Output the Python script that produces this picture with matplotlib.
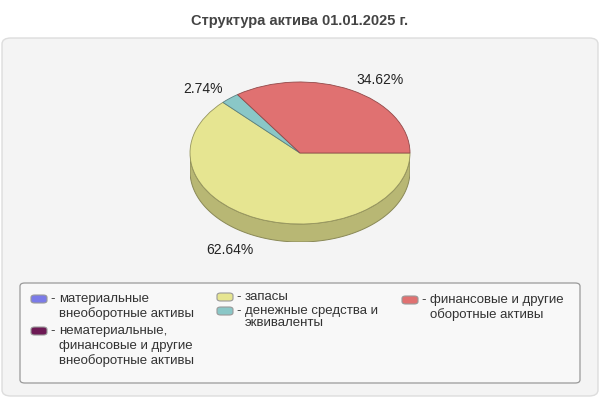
import numpy as np
import matplotlib
matplotlib.use("Agg")
import matplotlib.pyplot as plt
from matplotlib.patches import FancyBboxPatch, Polygon
from matplotlib.colors import to_rgb

plt.rcParams['font.family'] = ['Liberation Sans', 'DejaVu Sans']

title = "Структура актива 01.01.2025 г."
categories = [
    "материальные\nвнеоборотные активы",
    "нематериальные,\nфинансовые и другие\nвнеоборотные активы",
    "запасы",
    "денежные средства и\nэквиваленты",
    "финансовые и другие\nоборотные активы",
]
shares = [0.0, 0.0, 62.64, 2.74, 34.62]
colors = ["#7b7be8", "#6e1a55", "#e6e591", "#8ac7c7", "#e07171"]

W, H = 600, 400
fig = plt.figure(figsize=(6, 4), dpi=100)
fig.patch.set_facecolor("white")


def fx(px):
    return px / W


def fy(py):
    return 1 - py / H


# background panel
panel = FancyBboxPatch((fx(2), fy(396)), fx(596), 358 / H,
                       boxstyle="round,pad=0,rounding_size=0.015",
                       transform=fig.transFigure, facecolor="#f4f4f4",
                       edgecolor="#dddddd", linewidth=1, zorder=-5)
fig.patches.append(panel)

fig.text(0.5, fy(21), title, ha="center", va="center",
         fontsize=10.5, fontweight="bold", color="#444444")

# pie area: top ellipse 190..410 x 82..224, depth 18px
depth = 18 / 71
ax = fig.add_axes([fx(190), fy(242), fx(220), 160 / H])
ax.patch.set_visible(False)
vals = [v for v in shares if v > 0]
cols = [c for v, c in zip(shares, colors) if v > 0]


def darker(c, f=0.8):
    return tuple(min(1, x * f) for x in to_rgb(c))


wedges = ax.pie(vals, colors=cols, startangle=0, counterclock=False, radius=1,
                wedgeprops=dict(linewidth=0.6))[0]
for w, c in zip(wedges, cols):
    w.set_edgecolor(darker(c, 0.65))
    w.set_zorder(3)

# side of the pie: only the front half (180..360 deg) is visible
for w, c in zip(wedges, cols):
    lo, hi = w.theta1, w.theta2
    for off in (0, 360, -360):
        a, b = max(lo + off, 180), min(hi + off, 360)
        if b <= a:
            continue
        t = np.radians(np.linspace(a, b, 120))
        top = np.column_stack([np.cos(t), np.sin(t)])
        bot = np.column_stack([np.cos(t[::-1]), np.sin(t[::-1]) - depth])
        ax.add_patch(Polygon(np.vstack([top, bot]), closed=True, zorder=2,
                             facecolor=darker(c, 0.8),
                             edgecolor=darker(c, 0.6), linewidth=0.7))

for w, v in zip(wedges, vals):
    mid = np.radians((w.theta1 + w.theta2) / 2)
    x, y = 1.1 * np.cos(mid), 1.1 * np.sin(mid)
    ha = "left" if x > 0 else "right"
    if y < 0:
        y -= depth
        va = "top"
    else:
        va = "baseline"
    ax.text(x, y, f"{v:.2f}%", ha=ha, va=va, fontsize=10,
            color="#222222", zorder=4)

ax.set_aspect("auto")
ax.set_xlim(-1, 1)
ax.set_ylim(-1 - depth, 1)
ax.axis("off")

# legend box
leg_box = FancyBboxPatch((fx(20), fy(383)), fx(560), 100 / H,
                         boxstyle="round,pad=0,rounding_size=0.008",
                         transform=fig.transFigure, facecolor="#f8f8f8",
                         edgecolor="#999999", linewidth=0.9, zorder=-4)
fig.patches.append(leg_box)

col_x = [31, 217, 402]
col_pitch = [15, 12, 15]
col_top = [299, 297, 300]
per_col = 2
for i, (lab, c) in enumerate(zip(categories, colors)):
    col = i // per_col
    if i % per_col == 0:
        y = col_top[col]
    x = col_x[col]
    fig.patches.append(FancyBboxPatch(
        (fx(x), fy(y + 4)), fx(16), 8 / H,
        boxstyle="round,pad=0,rounding_size=0.006",
        transform=fig.transFigure, facecolor=c, edgecolor="#999999",
        linewidth=0.8))
    fig.text(fx(x + 19), fy(y), "-", ha="left", va="center", fontsize=9.5,
             color="#333333")
    for line in lab.split("\n"):
        fig.text(fx(x + 28), fy(y), line, ha="left", va="center",
                 fontsize=9.5, color="#333333")
        y += col_pitch[col]
    y += 2

fig.savefig("out.png", dpi=100)
